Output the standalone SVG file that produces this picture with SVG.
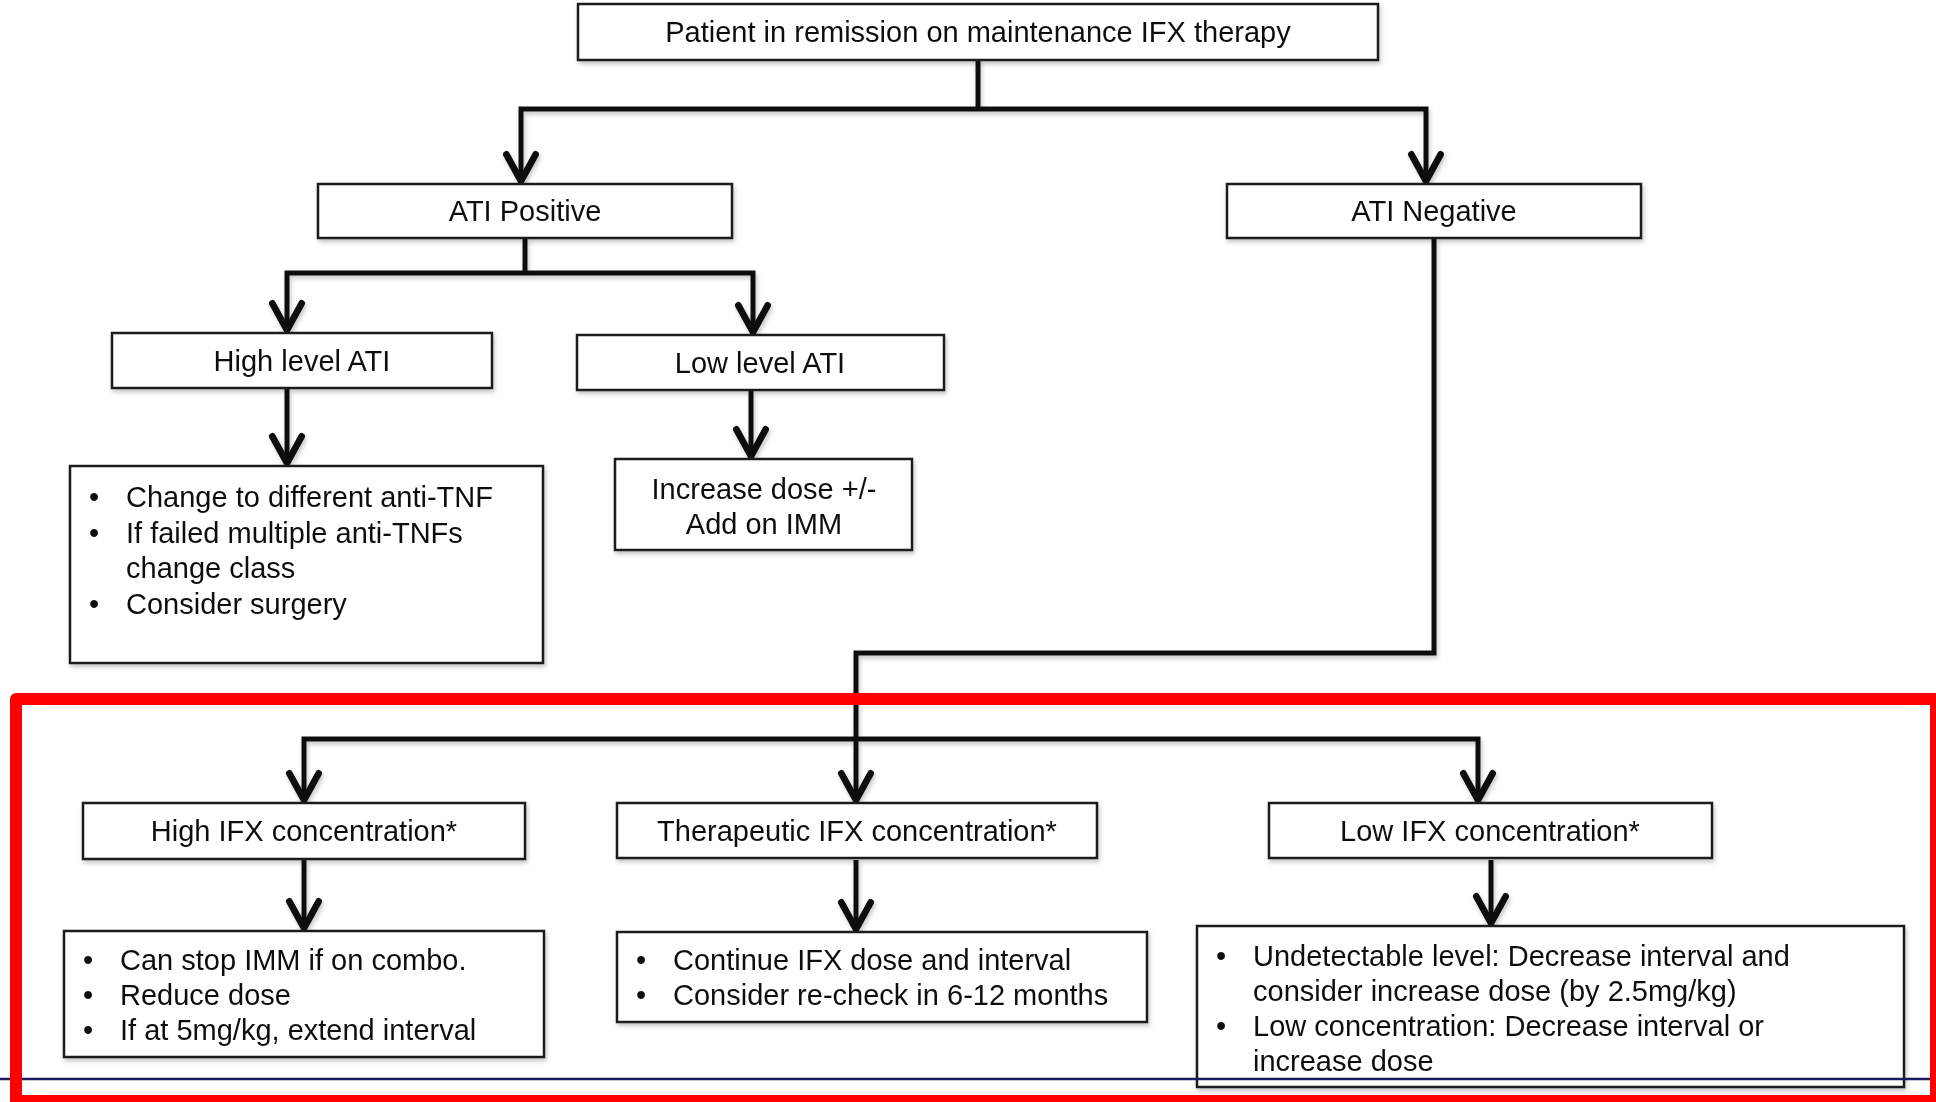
<svg xmlns="http://www.w3.org/2000/svg" width="1936" height="1102" viewBox="0 0 1936 1102">
<style>
.box{fill:#fff;stroke:#1a1a1a;stroke-width:2.5}
.t{font-family:"Liberation Sans",Arial,sans-serif;font-size:29px;fill:#111}
.c{text-anchor:middle}
.conn{fill:none;stroke:#111;stroke-width:5;stroke-linejoin:miter}
</style>
<defs>
<filter id="sh" x="-5%" y="-5%" width="110%" height="130%">
<feDropShadow dx="1.5" dy="3" stdDeviation="2" flood-color="#000" flood-opacity="0.22"/>
</filter>
<marker id="arr" markerUnits="userSpaceOnUse" markerWidth="40" markerHeight="40" viewBox="-25 -15 30 30" refX="0" refY="0" orient="auto">
<path d="M-20,-11 L0,0 L-20,11" fill="none" stroke="#111" stroke-width="5" stroke-linecap="round" stroke-linejoin="miter"/>
</marker>
</defs>
<rect width="1936" height="1102" fill="#fff"/>

<g id="connectors" filter="url(#sh)">
<path class="conn" d="M978,60 V109"/>
<path class="conn" d="M978,109 H521 V181" marker-end="url(#arr)"/>
<path class="conn" d="M978,109 H1426 V181" marker-end="url(#arr)"/>
<path class="conn" d="M525,238 V273"/>
<path class="conn" d="M525,273 H287 V330" marker-end="url(#arr)"/>
<path class="conn" d="M525,273 H753 V332" marker-end="url(#arr)"/>
<path class="conn" d="M287,389 V463" marker-end="url(#arr)"/>
<path class="conn" d="M751,391 V456" marker-end="url(#arr)"/>
<path class="conn" d="M1434,238 V653 H856 V800" marker-end="url(#arr)"/>
<path class="conn" d="M856,739 H304 V800" marker-end="url(#arr)"/>
<path class="conn" d="M856,739 H1478 V800" marker-end="url(#arr)"/>
<path class="conn" d="M304,860 V928" marker-end="url(#arr)"/>
<path class="conn" d="M856,860 V929" marker-end="url(#arr)"/>
<path class="conn" d="M1491,860 V923" marker-end="url(#arr)"/>
</g>

<g id="n-root" filter="url(#sh)">
<rect class="box" x="578" y="4" width="800" height="56"/>
<text class="t c" x="978" y="42">Patient in remission on maintenance IFX therapy</text>
</g>
<g id="n-ati-pos" filter="url(#sh)">
<rect class="box" x="318" y="184" width="414" height="54"/>
<text class="t c" x="525" y="221">ATI Positive</text>
</g>
<g id="n-ati-neg" filter="url(#sh)">
<rect class="box" x="1227" y="184" width="414" height="54"/>
<text class="t c" x="1434" y="221">ATI Negative</text>
</g>
<g id="n-high-ati" filter="url(#sh)">
<rect class="box" x="112" y="333" width="380" height="55"/>
<text class="t c" x="302" y="371">High level ATI</text>
</g>
<g id="n-low-ati" filter="url(#sh)">
<rect class="box" x="577" y="335" width="367" height="55"/>
<text class="t c" x="760" y="373">Low level ATI</text>
</g>
<g id="n-change" filter="url(#sh)">
<rect class="box" x="70" y="466" width="473" height="197"/>
<text class="t" x="89" y="507">•</text>
<text class="t" x="126" y="507">Change to different anti-TNF</text>
<text class="t" x="89" y="543">•</text>
<text class="t" x="126" y="543">If failed multiple anti-TNFs</text>
<text class="t" x="126" y="578">change class</text>
<text class="t" x="89" y="614">•</text>
<text class="t" x="126" y="614">Consider surgery</text>
</g>
<g id="n-increase" filter="url(#sh)">
<rect class="box" x="615" y="459" width="297" height="91"/>
<text class="t c" x="764" y="499">Increase dose +/-</text>
<text class="t c" x="764" y="534">Add on IMM</text>
</g>
<g id="n-high-ifx" filter="url(#sh)">
<rect class="box" x="83" y="803" width="442" height="56"/>
<text class="t c" x="304" y="841">High IFX concentration*</text>
</g>
<g id="n-ther-ifx" filter="url(#sh)">
<rect class="box" x="617" y="803" width="480" height="55"/>
<text class="t c" x="857" y="841">Therapeutic IFX concentration*</text>
</g>
<g id="n-low-ifx" filter="url(#sh)">
<rect class="box" x="1269" y="803" width="443" height="55"/>
<text class="t c" x="1490" y="841">Low IFX concentration*</text>
</g>
<g id="n-canstop" filter="url(#sh)">
<rect class="box" x="64" y="931" width="480" height="126"/>
<text class="t" x="83" y="970">•</text>
<text class="t" x="120" y="970">Can stop IMM if on combo.</text>
<text class="t" x="83" y="1005">•</text>
<text class="t" x="120" y="1005">Reduce dose</text>
<text class="t" x="83" y="1040">•</text>
<text class="t" x="120" y="1040">If at 5mg/kg, extend interval</text>
</g>
<g id="n-continue" filter="url(#sh)">
<rect class="box" x="617" y="932" width="530" height="90"/>
<text class="t" x="636" y="970">•</text>
<text class="t" x="673" y="970">Continue IFX dose and interval</text>
<text class="t" x="636" y="1005">•</text>
<text class="t" x="673" y="1005">Consider re-check in 6-12 months</text>
</g>
<g id="n-undetect" filter="url(#sh)">
<rect class="box" x="1197" y="926" width="707" height="161"/>
<text class="t" x="1216" y="966">•</text>
<text class="t" x="1253" y="966">Undetectable level: Decrease interval and</text>
<text class="t" x="1253" y="1001">consider increase dose (by 2.5mg/kg)</text>
<text class="t" x="1216" y="1036">•</text>
<text class="t" x="1253" y="1036">Low concentration: Decrease interval or</text>
<text class="t" x="1253" y="1071">increase dose</text>
</g>

<line x1="0" y1="1079" x2="1930" y2="1079" stroke="#1c1a5e" stroke-width="2.5"/>
<rect x="16" y="699" width="1920" height="402" fill="none" stroke="#ff0000" stroke-width="12" stroke-linejoin="round"/>
</svg>
